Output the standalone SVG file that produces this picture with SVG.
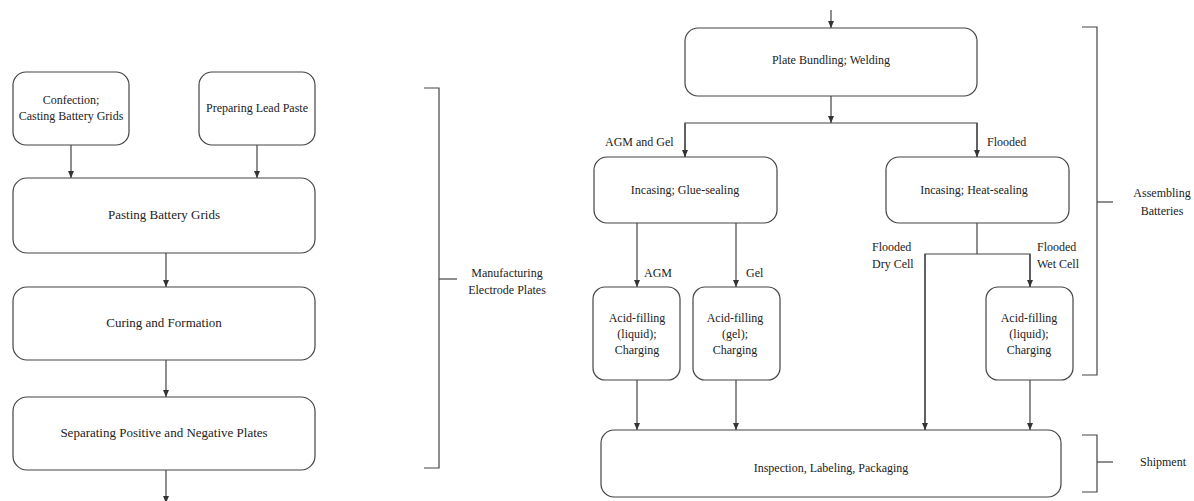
<svg xmlns="http://www.w3.org/2000/svg" width="1194" height="501" viewBox="0 0 1194 501">
<defs>
<marker id="ah" markerUnits="userSpaceOnUse" markerWidth="8" markerHeight="6" refX="7" refY="3" orient="auto">
<path d="M0,0 L7,3 L0,6 z" fill="#333"/>
</marker>
<style>
.box{fill:#fff;stroke:#444;stroke-width:1.2}
.ln{fill:none;stroke:#444;stroke-width:1.2}
.ar{fill:none;stroke:#444;stroke-width:1.2;marker-end:url(#ah)}
text{fill:#222;text-anchor:middle}
.big{font-size:13px}
.sm{font-size:12px}
.lbl{font-size:12px;text-anchor:start}
</style>
</defs>
<rect width="1194" height="501" fill="#fff"/>

<g id="connectors">
<line class="ar" x1="71" y1="145" x2="71" y2="178"/>
<line class="ar" x1="257" y1="145" x2="257" y2="178"/>
<line class="ar" x1="166" y1="253" x2="166" y2="287"/>
<line class="ar" x1="166" y1="360" x2="166" y2="397"/>
<line class="ar" x1="166" y1="470" x2="166" y2="503"/>

<line class="ar" x1="831" y1="10" x2="831" y2="28"/>
<line class="ar" x1="831" y1="96" x2="831" y2="123"/>
<polyline class="ln" points="685,157 685,123 977,123 977,157"/>
<line class="ar" x1="685" y1="123" x2="685" y2="157"/>
<line class="ar" x1="977" y1="123" x2="977" y2="157"/>
<line class="ar" x1="637" y1="223" x2="637" y2="287"/>
<line class="ar" x1="736" y1="223" x2="736" y2="287"/>
<polyline class="ln" points="977,223 977,254"/>
<polyline class="ln" points="925,430 925,254 1030,254 1030,287"/>
<line class="ar" x1="925" y1="254" x2="925" y2="430"/>
<line class="ar" x1="1030" y1="254" x2="1030" y2="287"/>
<line class="ar" x1="637" y1="380" x2="637" y2="430"/>
<line class="ar" x1="736" y1="380" x2="736" y2="430"/>
<line class="ar" x1="1030" y1="380" x2="1030" y2="430"/>
</g>

<g font-family="'Liberation Serif', 'DejaVu Serif', serif">
<g id="n-confection">
<rect class="box" x="13" y="72" width="116" height="73" rx="13"/>
<text class="sm" x="71" y="104">Confection;</text>
<text class="sm" x="71" y="120">Casting Battery Grids</text>
</g>
<g id="n-paste">
<rect class="box" x="199" y="72" width="116" height="73" rx="13"/>
<text class="sm" x="257" y="112">Preparing Lead Paste</text>
</g>
<g id="n-pasting">
<rect class="box" x="13" y="178" width="302" height="75" rx="14"/>
<text class="big" x="164" y="219">Pasting Battery Grids</text>
</g>
<g id="n-curing">
<rect class="box" x="13" y="287" width="302" height="73" rx="14"/>
<text class="big" x="164" y="327">Curing and Formation</text>
</g>
<g id="n-separating">
<rect class="box" x="13" y="397" width="302" height="73" rx="14"/>
<text class="big" x="164" y="437">Separating Positive and Negative Plates</text>
</g>

<g id="bracket-manufacturing">
<polyline class="ln" points="424,88 439,88 439,468 424,468"/>
<line class="ln" x1="439" y1="279" x2="457" y2="279"/>
<text class="sm" x="507" y="277">Manufacturing</text>
<text class="sm" x="507" y="294">Electrode Plates</text>
</g>

<g id="n-bundling">
<rect class="box" x="685" y="28" width="292" height="68" rx="13"/>
<text class="sm" x="831" y="64">Plate Bundling; Welding</text>
</g>
<g id="labels">
<text class="lbl" x="605" y="146">AGM and Gel</text>
<text class="lbl" x="987" y="146">Flooded</text>
<text class="lbl" x="644" y="277">AGM</text>
<text class="lbl" x="746" y="277">Gel</text>
<text class="lbl" x="872" y="251">Flooded</text>
<text class="lbl" x="872" y="268">Dry Cell</text>
<text class="lbl" x="1037" y="251">Flooded</text>
<text class="lbl" x="1037" y="268">Wet Cell</text>
</g>
<g id="n-glue">
<rect class="box" x="594" y="157" width="183" height="66" rx="13"/>
<text class="sm" x="685" y="194">Incasing; Glue-sealing</text>
</g>
<g id="n-heat">
<rect class="box" x="886" y="157" width="183" height="66" rx="13"/>
<text class="sm" x="974" y="194">Incasing; Heat-sealing</text>
</g>
<g id="n-acid-agm">
<rect class="box" x="593" y="287" width="87" height="93" rx="12"/>
<text class="sm" x="637" y="322">Acid-filling</text>
<text class="sm" x="637" y="338">(liquid);</text>
<text class="sm" x="637" y="354">Charging</text>
</g>
<g id="n-acid-gel">
<rect class="box" x="693" y="287" width="87" height="93" rx="12"/>
<text class="sm" x="735" y="322">Acid-filling</text>
<text class="sm" x="735" y="338">(gel);</text>
<text class="sm" x="735" y="354">Charging</text>
</g>
<g id="n-acid-wet">
<rect class="box" x="986" y="287" width="87" height="93" rx="12"/>
<text class="sm" x="1029" y="322">Acid-filling</text>
<text class="sm" x="1029" y="338">(liquid);</text>
<text class="sm" x="1029" y="354">Charging</text>
</g>
<g id="n-inspection">
<rect class="box" x="601" y="430" width="460" height="67" rx="13"/>
<text class="sm" x="831" y="472">Inspection, Labeling, Packaging</text>
</g>

<g id="bracket-assembling">
<polyline class="ln" points="1082,27 1097,27 1097,375 1082,375"/>
<line class="ln" x1="1097" y1="202" x2="1113" y2="202"/>
<text class="sm" x="1162" y="197">Assembling</text>
<text class="sm" x="1162" y="215">Batteries</text>
</g>
<g id="bracket-shipment">
<polyline class="ln" points="1082,435 1097,435 1097,492 1082,492"/>
<line class="ln" x1="1097" y1="462" x2="1113" y2="462"/>
<text class="sm" x="1163" y="466">Shipment</text>
</g>
</g>
</svg>
